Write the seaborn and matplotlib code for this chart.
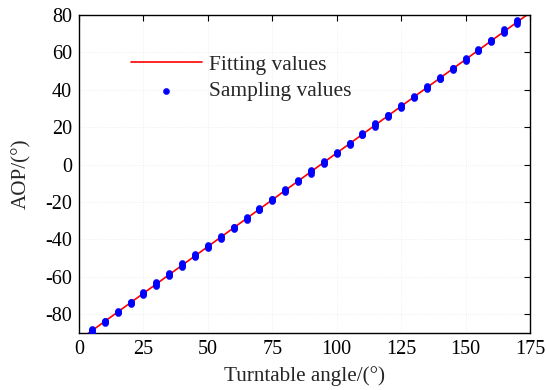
import numpy as np
import pandas as pd
import matplotlib
matplotlib.use("Agg")
import matplotlib.pyplot as plt
import seaborn as sns

angles = [5, 10, 15, 20, 25, 30, 35, 40, 45, 50, 55, 60, 65, 70, 75, 80, 85,
          90, 95, 100, 105, 110, 115, 120, 125, 130, 135, 140, 145, 150, 155,
          160, 165, 170]
sample_1 = [-89.8, -84.6, -79.5, -74.4, -69.6, -64.8, -59.4, -54.8, -49.5, -44.8,
            -39.5, -34.4, -29.5, -24.4, -19.5, -14.7, -9.5, -4.8, 0.6, 5.5, 10.5,
            15.6, 20.2, 25.5, 30.5, 35.6, 40.5, 45.6, 50.5, 55.5, 60.6, 65.5, 70.2, 75.3]
sample_2 = [-89.0, -84.1, -79.0, -74.0, -69.0, -64.1, -59.0, -54.0, -49.0, -44.0,
            -39.0, -34.0, -29.0, -24.0, -19.0, -14.0, -9.0, -4.0, 1.0, 6.0, 11.0,
            16.0, 21.0, 26.0, 31.0, 36.0, 41.0, 46.0, 51.0, 56.0, 61.0, 66.0, 71.0, 76.0]
sample_3 = [-88.3, -83.7, -78.6, -73.6, -68.5, -63.4, -58.5, -53.3, -48.5, -43.3,
            -38.6, -33.6, -28.5, -23.6, -18.6, -13.4, -8.5, -3.3, 1.4, 6.4, 11.4,
            16.4, 21.7, 26.4, 31.5, 36.4, 41.5, 46.4, 51.5, 56.4, 61.4, 66.5, 71.7, 76.6]
sample_4 = [-87.6, -83.4, -78.2, -73.3, -68.1, -62.9, -58.1, -52.7, -48.0, -42.8,
            -38.2, -33.3, -28.1, -23.3, -18.2, -12.9, -8.1, -2.8, 1.8, 6.8, 11.8,
            16.7, 22.3, 26.8, 31.9, 36.7, 41.9, 46.7, 51.9, 56.8, 61.7, 66.9, 72.4, 77.2]

x_ticks = [0, 25, 50, 75, 100, 125, 150, 175]
y_ticks = [-80, -60, -40, -20, 0, 20, 40, 60, 80]

sns.set_style("white")
plt.rcParams["font.family"] = ["Liberation Serif", "DejaVu Serif"]
plt.rcParams["axes.unicode_minus"] = False

df = pd.DataFrame({
    "angle": angles * 4,
    "aop": sample_1 + sample_2 + sample_3 + sample_4,
})

fig = plt.figure(figsize=(5.46, 3.90), dpi=100)
ax = fig.add_axes([79/546, 1-333/390, 451/546, 318/390])

ax.set_xlim(0, 175)
ax.set_ylim(-90, 80)

slope, intercept = np.polyfit(df["angle"], df["aop"], 1)
fx = np.array(ax.get_xlim())
fit_df = pd.DataFrame({"angle": fx, "aop": slope * fx + intercept})

sns.lineplot(data=fit_df, x="angle", y="aop", ax=ax, color="#ff0000",
             linewidth=1.2, label="Fitting values", zorder=2)
sns.scatterplot(data=df, x="angle", y="aop", ax=ax, color="#0000ff",
                s=20, edgecolor="#0000ff", linewidth=0.3,
                label="Sampling values", zorder=3)

ax.set_xticks(x_ticks)
ax.set_yticks(y_ticks)
ax.set_xlim(0, 175)
ax.set_ylim(-90, 80)
ax.tick_params(direction="in", length=4, width=0.8, labelsize=14.5,
               top=True, right=True, colors="black", pad=5)
ax.grid(True, linestyle=":", color="#ececec", linewidth=0.6)
for sp in ax.spines.values():
    sp.set_color("black")
    sp.set_linewidth(1.0)

ax.set_xlabel("Turntable angle/(°)", fontsize=15.2, labelpad=5)
ax.set_ylabel("AOP/(°)", fontsize=15.2, labelpad=10)

leg = ax.legend(loc="upper left", bbox_to_anchor=(0.115, 0.875), frameon=False,
                fontsize=15.5, handlelength=3.3, handletextpad=0.35,
                labelspacing=0.3, borderpad=0, borderaxespad=0)

fig.savefig("out.png", dpi=100)
